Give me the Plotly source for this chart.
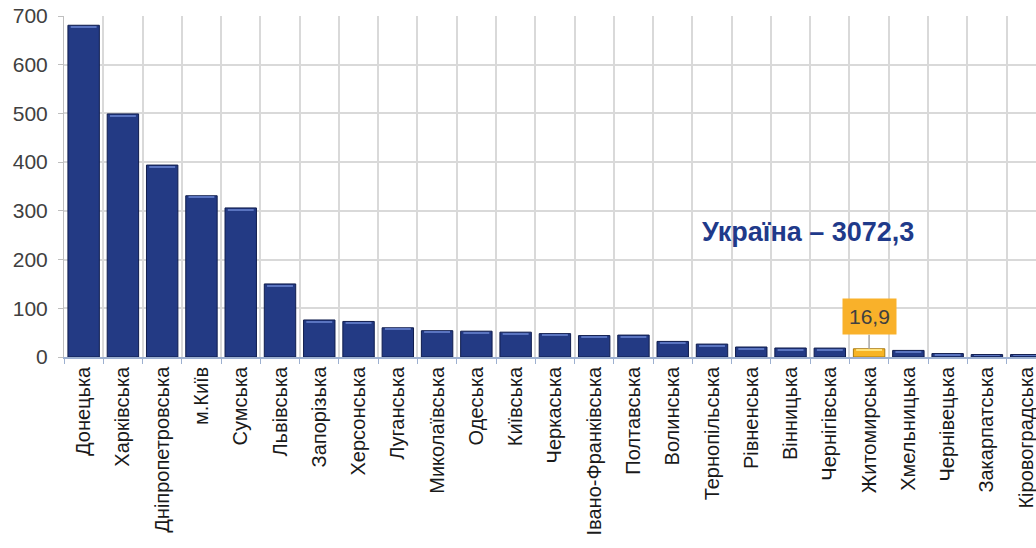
import plotly.graph_objects as go

regions = ["Донецька", "Харківська", "Дніпропетровська", "м.Київ", "Сумська",
           "Львівська", "Запорізька", "Херсонська", "Луганська", "Миколаївська",
           "Одеська", "Київська", "Черкаська", "Івано-Франківська", "Полтавська",
           "Волинська", "Тернопільська", "Рівненська", "Вінницька", "Чернігівська",
           "Житомирська", "Хмельницька", "Чернівецька", "Закарпатська", "Кіровоградська"]
values = [681, 499, 394, 331, 306,
          150, 76, 73, 60, 54,
          53, 51, 48, 44, 45,
          32, 26.5, 20.5, 18.5, 18.3,
          16.9, 13.5, 7, 5, 5]
highlight = "Житомирська"
highlight_label = "16,9"
total_label = "Україна – 3072,3"

NAVY = "#233a84"
YELLOW = "#f7b425"
colors = [YELLOW if r == highlight else NAVY for r in regions]
edge = ["#a8790f" if r == highlight else "#0f1c4d" for r in regions]
shine = ["#ffe27a" if r == highlight else "#5a74c0" for r in regions]

FONT = "Liberation Sans, Arial"

fig = go.Figure()
fig.add_trace(go.Bar(
    x=regions, y=values, marker=dict(color=colors, line=dict(color=edge, width=1)),
    width=0.8, hoverinfo="x+y"))
# top bevel highlight
fig.add_trace(go.Bar(
    x=regions, y=[min(2.2, v * 0.2) for v in values],
    base=[v - min(4.5, v * 0.45) for v in values],
    marker=dict(color=shine, line=dict(width=0)), width=0.66, hoverinfo="skip"))

hi_idx = regions.index(highlight)
fig.add_annotation(x=regions[hi_idx], y=values[hi_idx], text=highlight_label,
                   showarrow=True, arrowhead=0, arrowwidth=1.5, arrowcolor="#a6a6a6",
                   ax=0, ay=-32, bgcolor="#f9b12a", borderpad=6,
                   font=dict(family=FONT, size=21, color="#404040"))
fig.add_annotation(xref="paper", yref="paper", x=0.654, y=0.367, xanchor="left",
                   yanchor="middle", text="<b>" + total_label + "</b>", showarrow=False,
                   font=dict(family=FONT, size=27, color="#1f3a8a"))

fig.update_layout(
    width=1036, height=548, barmode="overlay", showlegend=False,
    plot_bgcolor="white", paper_bgcolor="white",
    margin=dict(l=64, r=0, t=16, b=191, autoexpand=False),
    font=dict(family=FONT, color="#262626"),
)
fig.update_xaxes(range=[-0.5, 24.25], tickson="boundaries", showgrid=True, automargin=False,
                 gridcolor="#d9d9d9", gridwidth=1.5, ticks="outside", ticklen=5,
                 tickcolor="#9db0d0", showline=True, linecolor="#9db0d0", linewidth=1.5,
                 tickangle=-90, tickfont=dict(size=20, color="#1a1a1a"),
                 ticklabeloverflow="allow")
fig.update_yaxes(range=[0, 700], dtick=100, showgrid=True, gridcolor="#d9d9d9", automargin=False,
                 gridwidth=1.5, ticks="outside", ticklen=5, tickcolor="#bfbfbf",
                 showline=True, linecolor="#bfbfbf", zeroline=False, ticklabelstandoff=6,
                 ticklabeloverflow="allow",
                 tickfont=dict(size=21, color="#404040"))

# remove the page's default body margin so the figure fills the window exactly
fig.write_html("out.html", config={"displayModeBar": False},
               post_script="document.body.style.margin='0';")
